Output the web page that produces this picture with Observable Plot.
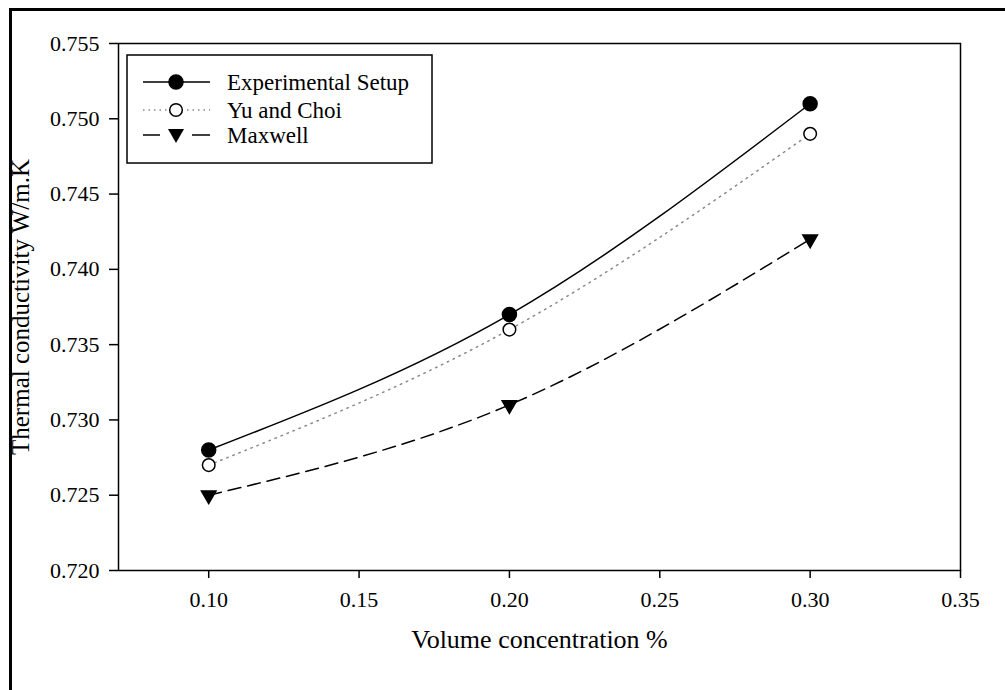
<!DOCTYPE html>
<html><head><meta charset="utf-8">
<script src="https://cdn.jsdelivr.net/npm/d3@7"></script>
<script src="https://cdn.jsdelivr.net/npm/@observablehq/plot@0.6"></script>
<style>
html,body{margin:0;padding:0;background:#fff;overflow:hidden;width:1005px;height:690px;}
#frame{position:absolute;left:9px;top:8px;width:1100px;height:800px;border-left:3px solid #000;border-top:3px solid #000;}
#chart{position:absolute;left:0;top:0;}
#legend{position:absolute;left:0;top:0;}
svg text{font-family:'Liberation Serif','Times New Roman','DejaVu Serif',serif !important;}
</style></head><body>
<div id="frame"></div>
<div id="chart"></div>
<svg id="legend" width="1005" height="690"></svg>
<script>
// ---- data ----
const concentration = [0.10, 0.20, 0.30];
const experimental = [0.728, 0.737, 0.751];
const yuChoi = [0.727, 0.736, 0.749];
const maxwell = [0.725, 0.731, 0.742];
const seriesNames = ["Experimental Setup", "Yu and Choi", "Maxwell"];
const xTicks = [0.10, 0.15, 0.20, 0.25, 0.30, 0.35];
const yTicks = [0.720, 0.725, 0.730, 0.735, 0.740, 0.745, 0.750, 0.755];
const xTitle = "Volume concentration %";
const yTitle = "Thermal conductivity W/m.K";

const mk = vals => concentration.map((c, i) => ({x: c, y: vals[i]}));
const expData = mk(experimental), yuData = mk(yuChoi), maxData = mk(maxwell);

const FONT = "'Liberation Serif', 'Times New Roman', serif";

const chart = Plot.plot({
  width: 1005, height: 690,
  marginLeft: 118, marginRight: 45, marginTop: 43, marginBottom: 120,
  x: {domain: [0.07, 0.35]},
  y: {domain: [0.720, 0.755]},
  style: {fontFamily: FONT, fontSize: "22px", color: "#000", background: "transparent", overflow: "visible"},
  marks: [
    Plot.axisX({ticks: xTicks, tickFormat: d3.format(".2f"), tickSize: 8, tickPadding: 13, strokeWidth: 1.5, label: null, fontSize: 22}),
    Plot.axisY({ticks: yTicks, tickFormat: d3.format(".3f"), tickSize: 9, tickPadding: 10, strokeWidth: 1.5, label: null, fontSize: 22}),
    Plot.frame({stroke: "#000", strokeWidth: 1.5}),
    Plot.line(expData, {x: "x", y: "y", curve: "natural", stroke: "#000", strokeWidth: 1.5}),
    Plot.line(yuData, {x: "x", y: "y", curve: "natural", stroke: "#888", strokeWidth: 1.5, strokeDasharray: "1.5,5"}),
    Plot.line(maxData, {x: "x", y: "y", curve: "natural", stroke: "#000", strokeWidth: 1.5, strokeDasharray: "13,7"}),
    Plot.dot(expData, {x: "x", y: "y", r: 7, fill: "#000", stroke: "#000"}),
    Plot.dot(yuData, {x: "x", y: "y", r: 6.3, fill: "#fff", stroke: "#000", strokeWidth: 1.5}),
    Plot.dot(maxData, {x: "x", y: "y", symbol: "triangle", rotate: 180, r: 5.4, fill: "#000", stroke: "#000"}),
    Plot.text([xTitle], {frameAnchor: "bottom", dy: 77, text: d => d, fontSize: 26, fill: "#000"}),
    Plot.text([yTitle], {frameAnchor: "left", dx: -98, rotate: -90, textAnchor: "middle", text: d => d, fontSize: 25, fill: "#000"})
  ]
});
document.getElementById("chart").appendChild(chart);

// ---- legend ----
const lg = d3.select("#legend");
lg.append("rect").attr("x", 127).attr("y", 55).attr("width", 305).attr("height", 108)
  .attr("fill", "#fff").attr("stroke", "#000").attr("stroke-width", 1.5);
const rows = [82, 110, 135];
const styles = [
  {stroke: "#000", dash: null, sym: "circle", fill: "#000"},
  {stroke: "#888", dash: "1.5,4", sym: "circle", fill: "#fff"},
  {stroke: "#000", dash: "13,7", sym: "tri", fill: "#000"}
];
seriesNames.forEach((name, i) => {
  const y = rows[i], s = styles[i];
  if (i === 2) {
    lg.append("line").attr("x1",143).attr("x2",160).attr("y1",y).attr("y2",y).attr("stroke","#000").attr("stroke-width",1.5);
    lg.append("line").attr("x1",192).attr("x2",210).attr("y1",y).attr("y2",y).attr("stroke","#000").attr("stroke-width",1.5);
  } else {
    const ln = lg.append("line").attr("x1", 143).attr("x2", 210).attr("y1", y).attr("y2", y)
      .attr("stroke", s.stroke).attr("stroke-width", 1.5);
    if (s.dash) ln.attr("stroke-dasharray", s.dash);
  }
  if (s.sym === "circle") {
    lg.append("circle").attr("cx", 176).attr("cy", y).attr("r", i === 0 ? 7 : 6.3)
      .attr("fill", s.fill).attr("stroke", "#000").attr("stroke-width", 1.5);
  } else {
    lg.append("path").attr("d", `M${176-8},${y-6} L${176+8},${y-6} L176,${y+8} Z`).attr("fill", "#000");
  }
  lg.append("text").attr("x", 227).attr("y", y).attr("dy", "0.35em")
    .attr("font-size", 23).attr("fill", "#000").text(name);
});
</script>
</body></html>
